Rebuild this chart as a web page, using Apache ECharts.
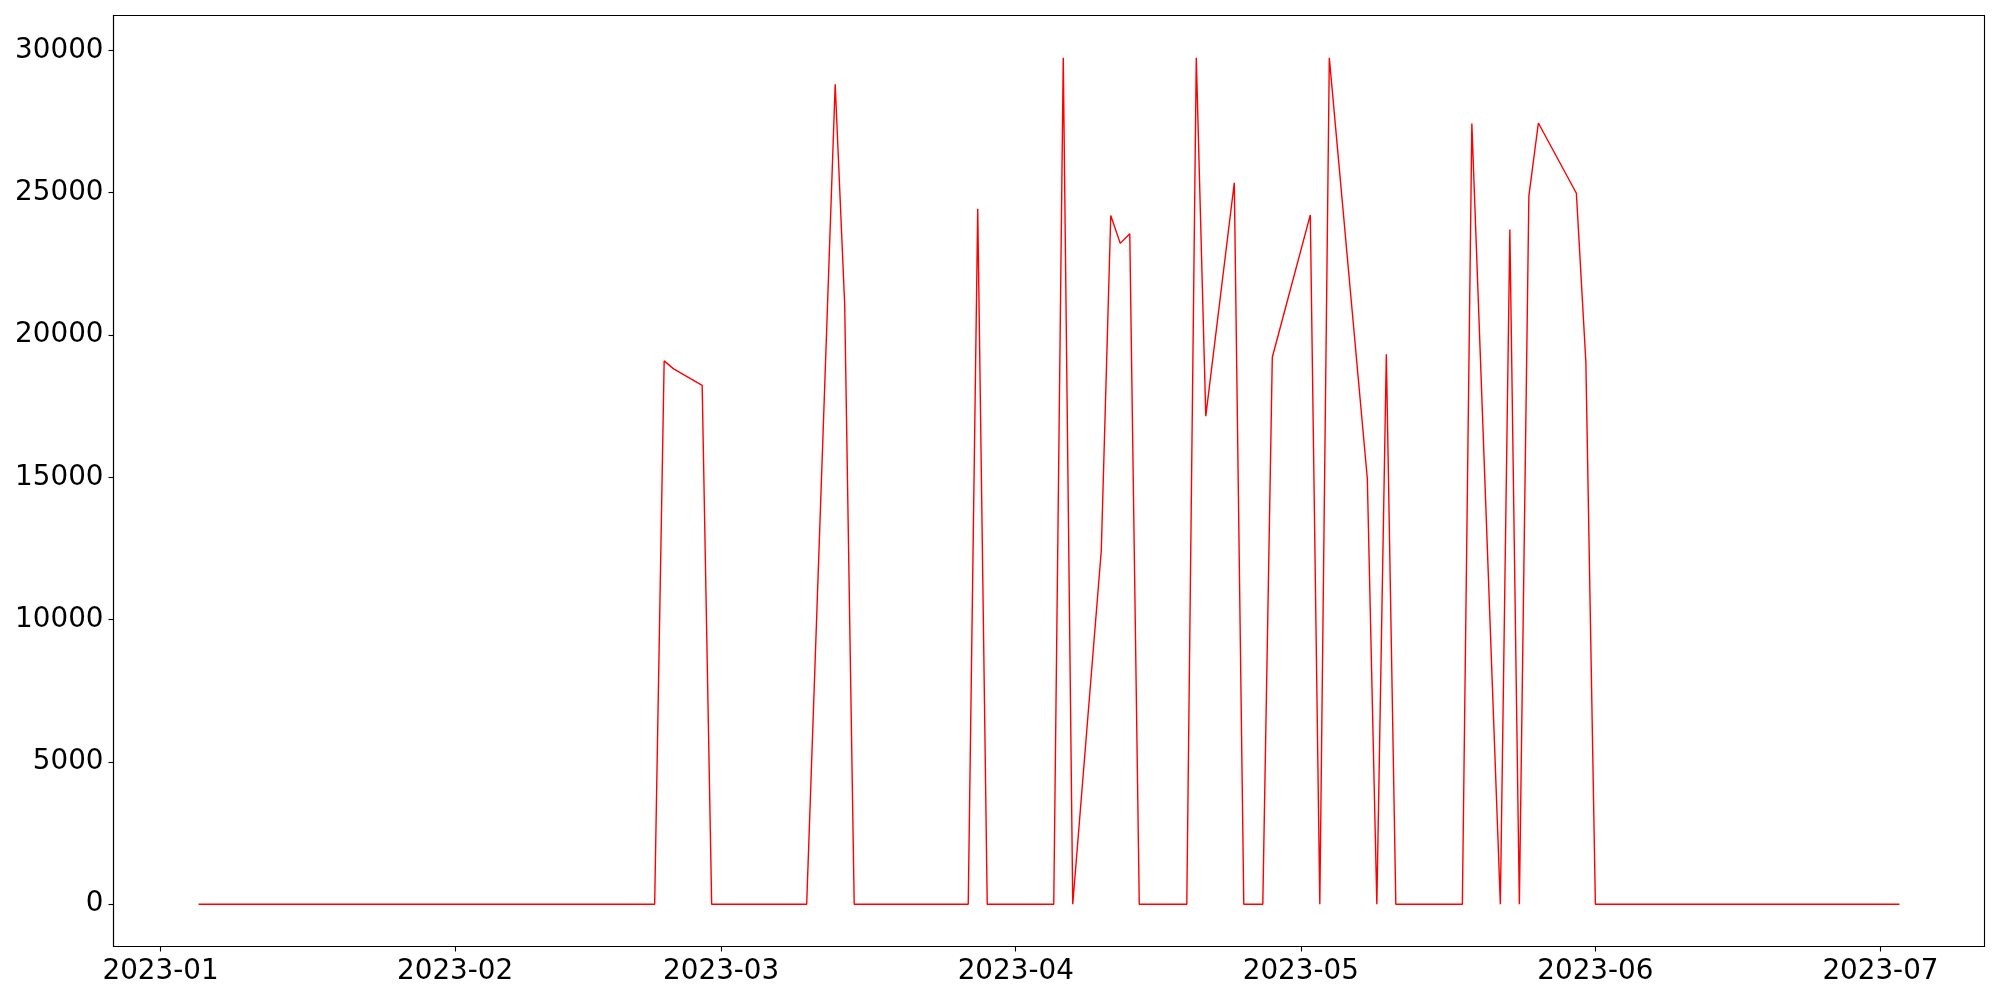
<!DOCTYPE html>
<html>
<head>
<meta charset="utf-8">
<script src="https://cdn.jsdelivr.net/npm/echarts@6/dist/echarts.min.js"></script>
<style>
html,body{margin:0;padding:0;background:#fff;}
#chart{width:2000px;height:1000px;}
</style>
</head>
<body>
<div id="chart"></div>
<script>
// Observed vertices of the line (dates and values)
const dates = [
  '2023-01-05','2023-02-22','2023-02-23','2023-02-24','2023-02-27','2023-02-28',
  '2023-03-10','2023-03-13','2023-03-14','2023-03-15',
  '2023-03-27','2023-03-28','2023-03-29',
  '2023-04-05','2023-04-06','2023-04-07','2023-04-10','2023-04-11','2023-04-12','2023-04-13','2023-04-14',
  '2023-04-19','2023-04-20','2023-04-21','2023-04-24','2023-04-25','2023-04-26','2023-04-27','2023-04-28',
  '2023-05-02','2023-05-03','2023-05-04','2023-05-08','2023-05-09','2023-05-10','2023-05-11',
  '2023-05-18','2023-05-19','2023-05-22','2023-05-23','2023-05-24','2023-05-25','2023-05-26',
  '2023-05-30','2023-05-31','2023-06-01','2023-07-03'
];
const values = [
  0, 0, 19090, 18810, 18230, 0,
  0, 28810, 21060, 0,
  0, 24440, 0,
  0, 29740, 0, 12410, 24200, 23220, 23560, 0,
  0, 29740, 17150, 25350, 0, 0, 0, 19220,
  24220, 0, 29740, 14960, 0, 19320, 0,
  0, 27430, 0, 23710, 0, 24880, 27450,
  24980, 19040, 0, 0
];
const xTickLabels = ['2023-01','2023-02','2023-03','2023-04','2023-05','2023-06','2023-07'];
const yTickValues = [0, 5000, 10000, 15000, 20000, 25000, 30000];

const parse = s => { const p = s.split('-').map(Number); return Date.UTC(p[0], p[1] - 1, p[2] || 1); };
const seriesData = dates.map((d, i) => [parse(d), values[i]]);
const t0 = parse(dates[0]);
const t1 = parse(dates[dates.length - 1]);
const pad = (t1 - t0) * 0.05;
const xTicks = xTickLabels.map(s => parse(s + '-01'));
const vmax = Math.max(...values), vmin = Math.min(...values);
const ypad = (vmax - vmin) * 0.05;

const chart = echarts.init(document.getElementById('chart'));
const font = 'DejaVu Sans';
chart.setOption({
  animation: false,
  backgroundColor: '#ffffff',
  grid: {
    left: 113.5, right: 15.5, top: 15.5, bottom: 53.5,
    show: true, borderColor: '#000', borderWidth: 1.1, backgroundColor: 'transparent'
  },
  xAxis: {
    type: 'value',
    min: t0 - pad,
    max: t1 + pad,
    splitLine: { show: false },
    axisLine: { show: true, onZero: false, lineStyle: { color: '#000', width: 1.1 } },
    axisTick: { show: true, inside: false, length: 5, lineStyle: { color: '#000', width: 1.1 }, customValues: xTicks },
    axisLabel: {
      customValues: xTicks,
      margin: 11,
      showMinLabel: true, showMaxLabel: true,
      color: '#000', fontFamily: font, fontSize: 27.8,
      formatter: v => {
        const d = new Date(v);
        return d.getUTCFullYear() + '-' + String(d.getUTCMonth() + 1).padStart(2, '0');
      }
    }
  },
  yAxis: {
    type: 'value',
    min: vmin - ypad,
    max: vmax + ypad,
    splitLine: { show: false },
    axisLine: { show: true, onZero: false, lineStyle: { color: '#000', width: 1.1 } },
    axisTick: { show: true, inside: false, length: 5, lineStyle: { color: '#000', width: 1.1 }, customValues: yTickValues },
    axisLabel: {
      customValues: yTickValues,
      margin: 10,
      color: '#000', fontFamily: font, fontSize: 27.8,
      formatter: v => String(Math.round(v))
    }
  },
  series: [{
    type: 'line',
    data: seriesData,
    showSymbol: false,
    symbol: 'none',
    lineStyle: { color: '#ff0000', width: 1.4 },
    itemStyle: { color: '#ff0000' }
  }]
});
</script>
</body>
</html>
